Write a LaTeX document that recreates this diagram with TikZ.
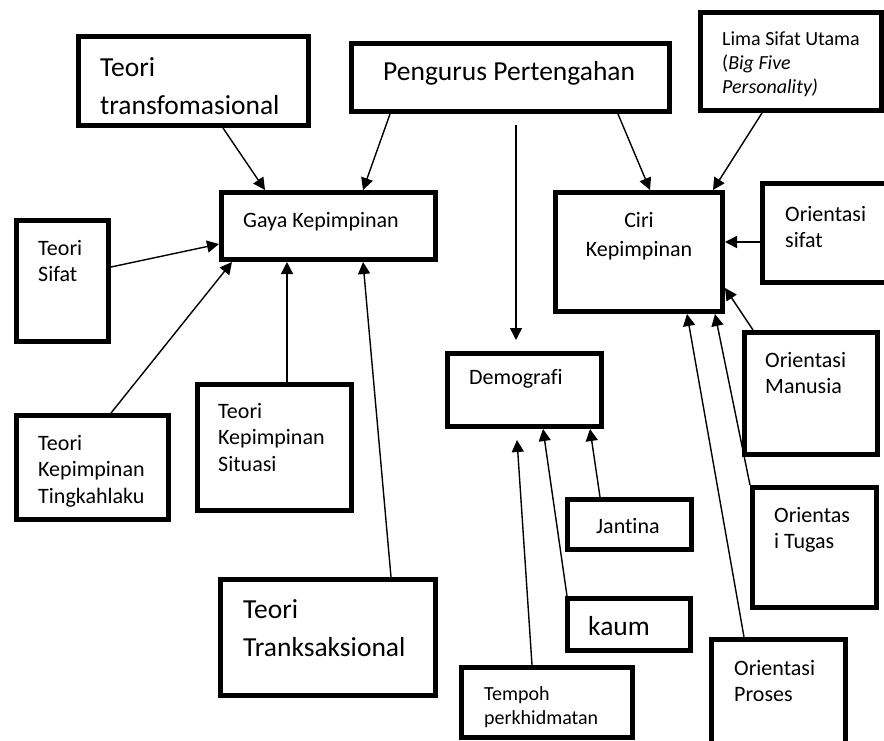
\documentclass[tikz,border=0pt]{standalone}
\usepackage{fontspec}
\setmainfont[Ligatures=NoCommon]{Carlito}
\usetikzlibrary{arrows.meta}

\begin{document}
\begin{tikzpicture}[x=1pt, y=-1pt,
    box/.style={draw=black, line width=5pt, fill=white, inner sep=0pt},
    txt/.style={anchor=base west, inner sep=0pt, align=left},
    big/.style={txt, font=\fontsize{27.5}{38.5}\selectfont},
    mid/.style={txt, font=\fontsize{22}{26.5}\selectfont},
    sml/.style={txt, font=\fontsize{20}{24}\selectfont},
    arrow/.style={-{Triangle[length=12pt,width=12pt]}, line width=1.4pt, black}
  ]
  \useasboundingbox (0,0) rectangle (884,740);
  % texts sit on the baseline of their last line
  %---- TOP ROW ----
  \node[box, minimum width=230, minimum height=89] (transf) at (193.5,81) {};
  \node[big] (transf-txt) at ([xshift=24pt,yshift=-80.5pt]transf.north west) {Teori\\transfomasional};
  \node[box, minimum width=318, minimum height=68] (pengurus) at (510.5,77.5) {};
  \node[big] (pengurus-txt) at ([xshift=34pt,yshift=-39pt]pengurus.north west) {Pengurus Pertengahan};
  \node[box, minimum width=181, minimum height=98] (lima) at (791,61.5) {};
  \node[sml] (lima-txt) at ([xshift=24pt,yshift=-83pt]lima.north west)
    {Lima Sifat Utama\\(\textit{Big Five}\\\textit{Personality)}};
  %---- GAYA KEPIMPINAN ----
  \node[box, minimum width=214, minimum height=67] (gaya) at (328.5,226) {};
  \node[mid] (gaya-txt) at ([xshift=24pt,yshift=-37pt]gaya.north west) {Gaya Kepimpinan};
  \node[box, minimum width=92, minimum height=121] (tsifat) at (62.5,281) {};
  \node[mid] (tsifat-txt) at ([xshift=24pt,yshift=-63.5pt]tsifat.north west) {Teori\\Sifat};
  \node[box, minimum width=152, minimum height=104] (tlaku) at (92.5,467.5) {};
  \node[mid] (tlaku-txt) at ([xshift=24pt,yshift=-90pt]tlaku.north west) {Teori\\Kepimpinan\\Tingkahlaku};
  \node[box, minimum width=154, minimum height=126] (tsituasi) at (274.5,447.5) {};
  \node[mid] (tsituasi-txt) at ([xshift=23pt,yshift=-89pt]tsituasi.north west) {Teori\\Kepimpinan\\Situasi};
  \node[box, minimum width=215, minimum height=116] (transk) at (328,637.5) {};
  \node[big] (transk-txt) at ([xshift=25pt,yshift=-79.5pt]transk.north west) {Teori\\Tranksaksional};
  %---- CIRI KEPIMPINAN ----
  \node[box, minimum width=167, minimum height=119] (ciri) at (639,252) {};
  \node[txt, anchor=base, align=center, font=\fontsize{22}{29}\selectfont] (ciri-txt)
    at ([yshift=-66pt]ciri.north) {Ciri\\Kepimpinan};
  \node[box, minimum width=135, minimum height=99] (osifat) at (830,233) {};
  \node[mid] (osifat-txt) at ([xshift=25pt,yshift=-66.5pt]osifat.north west) {Orientasi\\sifat};
  \node[box, minimum width=133, minimum height=122] (omanusia) at (811,393.5) {};
  \node[mid] (omanusia-txt) at ([xshift=23pt,yshift=-63.5pt]omanusia.north west) {Orientasi\\Manusia};
  \node[box, minimum width=124, minimum height=120] (otugas) at (814.5,547.5) {};
  \node[mid] (otugas-txt) at ([xshift=24pt,yshift=-63.5pt]otugas.north west) {Orientas\\i Tugas};
  \node[box, minimum width=134, minimum height=108] (oproses) at (778.5,693.5) {};
  \node[mid] (oproses-txt) at ([xshift=25pt,yshift=-64.5pt]oproses.north west) {Orientasi\\Proses};
  %---- DEMOGRAFI ----
  \node[box, minimum width=154, minimum height=73] (demo) at (524.5,390) {};
  \node[mid] (demo-txt) at ([xshift=24pt,yshift=-33pt]demo.north west) {Demografi};
  \node[box, minimum width=124, minimum height=50] (jantina) at (629.5,524.5) {};
  \node[mid] (jantina-txt) at ([xshift=31pt,yshift=-36pt]jantina.north west) {Jantina};
  \node[box, minimum width=123, minimum height=52] (kaum) at (629,624.5) {};
  \node[big] (kaum-txt) at ([xshift=23pt,yshift=-39pt]kaum.north west) {kaum};
  \node[box, minimum width=171, minimum height=70] (tempoh) at (547,702.5) {};
  \node[sml] (tempoh-txt) at ([xshift=25pt,yshift=-59pt]tempoh.north west) {Tempoh\\perkhidmatan};
  %---- ARROWS ----
  \draw[arrow] ([xshift=147pt]transf.south west) -- ([xshift=46pt]gaya.north west);
  \draw[arrow] ([xshift=41pt]pengurus.south west) -- ([xshift=144pt]gaya.north west);
  \draw[arrow] ([xshift=167pt,yshift=-11pt]pengurus.south west) -- ([xshift=71pt,yshift=11pt]demo.north west);
  \draw[arrow] ([xshift=269pt]pengurus.south west) -- ([xshift=97pt]ciri.north west);
  \draw[arrow] ([xshift=64pt]lima.south west) -- ([xshift=160pt]ciri.north west);
  \draw[arrow] ([yshift=-49pt]tsifat.north east) -- ([yshift=-54pt]gaya.north west);
  \draw[arrow] ([xshift=97pt]tlaku.north west) -- ([xshift=13pt]gaya.south west);
  \draw[arrow] ([xshift=92pt]tsituasi.north west) -- ([xshift=68pt]gaya.south west);
  \draw[arrow] ([xshift=173pt]transk.north west) -- ([xshift=144pt]gaya.south west);
  \draw[arrow] ([yshift=-61pt]osifat.north west) -- ([yshift=-52pt]ciri.north east);
  \draw[arrow] ([xshift=11pt]omanusia.north west) -- ([yshift=-98pt]ciri.north east);
  \draw[arrow] (otugas.north west) -- ([xshift=-10pt]ciri.south east);
  \draw[arrow] ([xshift=35pt]oproses.north west) -- ([xshift=-38pt]ciri.south east);
  \draw[arrow] ([xshift=35pt]jantina.north west) -- ([xshift=145pt]demo.south west);
  \draw[arrow] ([xshift=2pt]kaum.north west) -- ([xshift=98pt]demo.south west);
  \draw[arrow] ([xshift=73pt]tempoh.north west) -- ([xshift=72pt,yshift=-11pt]demo.south west);
\end{tikzpicture}
\end{document}
